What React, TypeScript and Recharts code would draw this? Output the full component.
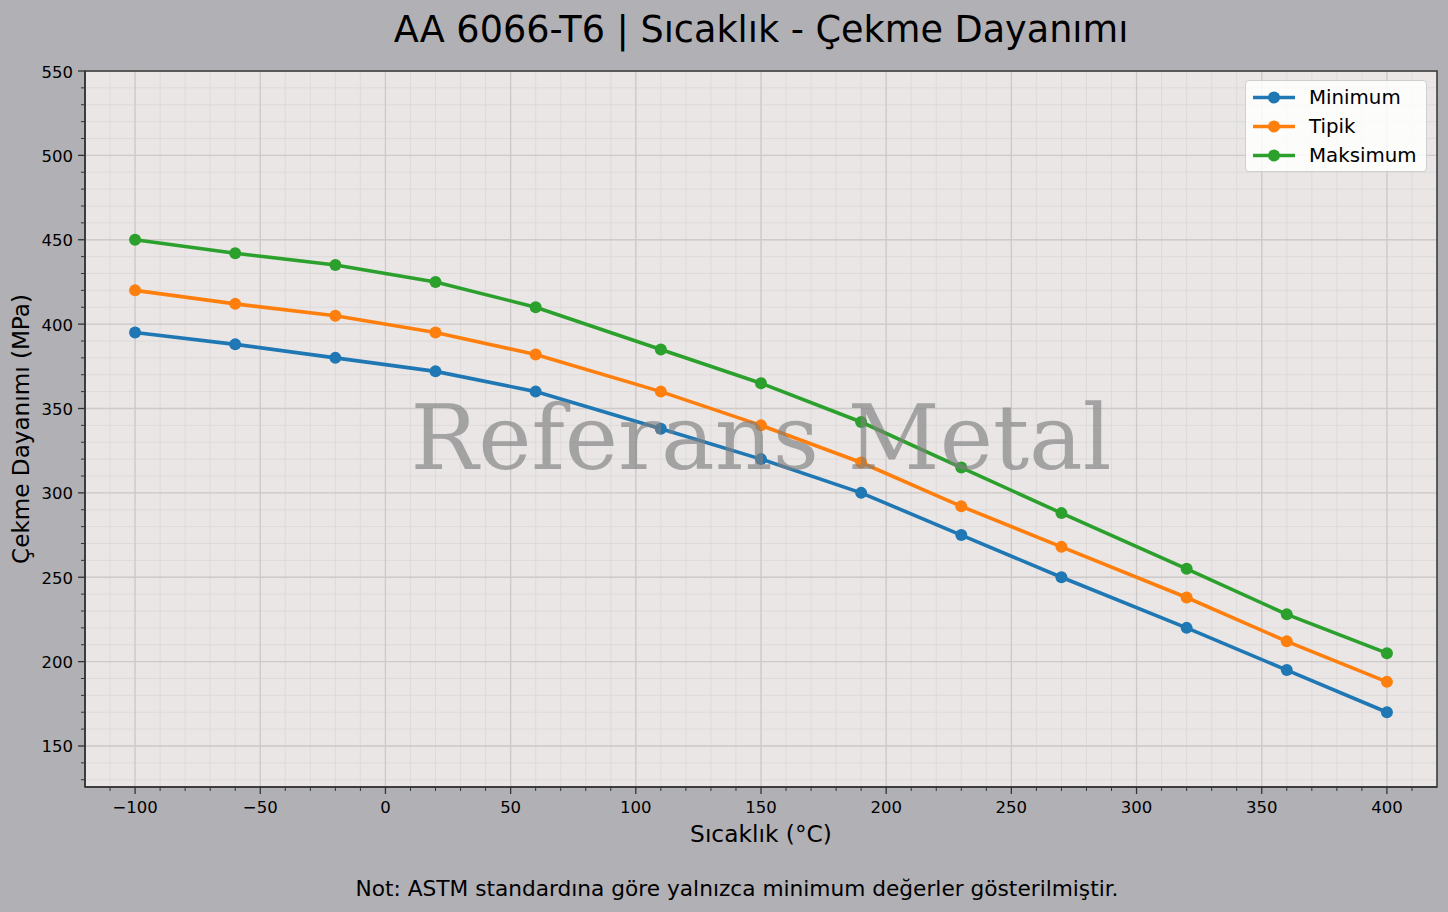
import { LineChart, Line, XAxis, YAxis, CartesianGrid } from 'recharts';

// Temperature points (°C)
const temperatures = [-100, -60, -20, 20, 60, 110, 150, 190, 230, 270, 320, 360, 400];

// Tensile strength (MPa)
const minimum = [395, 388, 380, 372, 360, 338, 320, 300, 275, 250, 220, 195, 170];
const typical = [420, 412, 405, 395, 382, 360, 340, 318, 292, 268, 238, 212, 188];
const maximum = [450, 442, 435, 425, 410, 385, 365, 342, 315, 288, 255, 228, 205];

const xLabels = [-100, -50, 0, 50, 100, 150, 200, 250, 300, 350, 400];
const yLabels = [150, 200, 250, 300, 350, 400, 450, 500, 550];

const seriesNames = ['Minimum', 'Tipik', 'Maksimum'];
const colors = ['#1f77b4', '#ff7f0e', '#2ca02c'];

const X_DOMAIN = [-120, 420];
const Y_DOMAIN = [125.7, 550];

const step = (from: number, to: number, by: number) => {
    const out: number[] = [];
    for (let v = from; v <= to; v += by) out.push(v);
    return out;
};
const xMinor = step(-110, 410, 10);
const yMinor = step(130, 550, 10);

const data = temperatures.map((t, i) => ({
    temp: t,
    Minimum: minimum[i],
    Tipik: typical[i],
    Maksimum: maximum[i],
}));

const FONT = '"DejaVu Sans", sans-serif';
const INK = '#000';
const minus = (v: number) => String(v).replace('-', '\u2212');

function XTick({ x, y, payload }: any) {
    const major = xLabels.includes(payload.value);
    return (
        <g>
            <line x1={x} x2={x} y1={y} y2={y + (major ? 7 : 4)} stroke="#333" strokeWidth={major ? 1.3 : 1} />
            {major && (
                <text x={x} y={y + 26} textAnchor="middle" fontSize={16.5} fontFamily={FONT} fill={INK}>
                    {minus(payload.value)}
                </text>
            )}
        </g>
    );
}

function YTick({ x, y, payload }: any) {
    const major = yLabels.includes(payload.value);
    return (
        <g>
            <line x1={x} x2={x - (major ? 7 : 4)} y1={y} y2={y} stroke="#333" strokeWidth={major ? 1.3 : 1} />
            {major && (
                <text x={x - 12} y={y + 6.5} textAnchor="end" fontSize={16.5} fontFamily={FONT} fill={INK}>
                    {payload.value}
                </text>
            )}
        </g>
    );
}

function ChartLegend() {
    return (
        <div style={{
            position: 'absolute', top: 80, left: 1245, width: 182, height: 92, boxSizing: 'border-box',
            background: 'rgba(255,255,255,0.85)', border: '1px solid #cfcfcf', borderRadius: 4,
            fontFamily: FONT, fontSize: 19.8, color: INK, paddingTop: 2,
        }}>
            {seriesNames.map((name, i) => (
                <div key={name} style={{ display: 'flex', alignItems: 'center', height: 29 }}>
                    <svg width={63} height={29} style={{ flex: 'none' }}>
                        <line x1={7} x2={49} y1={14.5} y2={14.5} stroke={colors[i]} strokeWidth={3.5} />
                        <circle cx={28} cy={14.5} r={6} fill={colors[i]} />
                    </svg>
                    <span style={{ lineHeight: '29px' }}>{name}</span>
                </div>
            ))}
        </div>
    );
}

export default function App() {
    return (
        <div style={{ position: 'absolute', top: 0, left: 0, width: 1448, height: 912, background: '#b1b0b5' }}>
            <LineChart width={1448} height={912} data={data} margin={{ top: 71, right: 11, bottom: 75, left: 0 }}>
                <CartesianGrid fill="#e9e6e5" stroke="#dbd8d7" strokeWidth={0.8} horizontalValues={yMinor} verticalValues={xMinor} />
                <CartesianGrid stroke="#cdcac9" strokeWidth={1.3} horizontalValues={yLabels} verticalValues={xLabels} fill="none" />
                <XAxis dataKey="temp" type="number" domain={X_DOMAIN} allowDataOverflow ticks={xMinor} interval={0}
                    height={50} tickSize={0} tickMargin={0} tickLine={false} tick={XTick}
                    axisLine={{ stroke: '#333', strokeWidth: 1.5 }} />
                <YAxis type="number" domain={Y_DOMAIN} allowDataOverflow ticks={yMinor} interval={0}
                    width={85} tickSize={0} tickMargin={0} tickLine={false} tick={YTick}
                    axisLine={{ stroke: '#333', strokeWidth: 1.5 }} />
                {seriesNames.map((name, i) => (
                    <Line key={name} dataKey={name} type="linear" stroke={colors[i]} strokeWidth={3.6}
                        dot={{ r: 6, fill: colors[i], stroke: colors[i], strokeWidth: 0 }}
                        activeDot={false} isAnimationActive={false} />
                ))}
            </LineChart>
            <ChartLegend />
            <svg width={1448} height={912} style={{ position: 'absolute', top: 0, left: 0, pointerEvents: 'none' }}>
                <rect x={85} y={71} width={1352} height={716} fill="none" stroke="#333" strokeWidth={1.5} />
                <text x={761} y={469} textAnchor="middle" fontSize={90} fontFamily='"DejaVu Serif", serif'
                    fill="#808080" fillOpacity={0.65}>Referans Metal</text>
                <text x={761} y={42} textAnchor="middle" fontSize={36.6} fontFamily={FONT} fill={INK}>
                    AA 6066-T6 | Sıcaklık - Çekme Dayanımı
                </text>
                <text x={761} y={842} textAnchor="middle" fontSize={23.3} fontFamily={FONT} fill={INK}>Sıcaklık (°C)</text>
                <text transform="translate(29, 429) rotate(-90)" textAnchor="middle" fontSize={23.1} fontFamily={FONT} fill={INK}>
                    Çekme Dayanımı (MPa)
                </text>
                <text x={737} y={896} textAnchor="middle" fontSize={21.7} fontFamily={FONT} fill={INK}>
                    Not: ASTM standardına göre yalnızca minimum değerler gösterilmiştir.
                </text>
            </svg>
        </div>
    );
}
